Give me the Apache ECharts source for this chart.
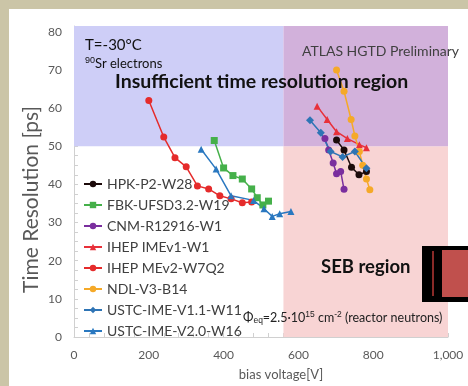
<!DOCTYPE html>
<html>
<head>
<meta charset="utf-8">
<script src="https://cdn.jsdelivr.net/npm/echarts@6/dist/echarts.min.js"></script>
<style>
  html, body { margin: 0; padding: 0; background: #cbc5a7; }
  #chart { position: absolute; left: 9px; top: 9px; width: 459px; height: 377px; background: #fff; }
</style>
</head>
<body>
<div id="chart"></div>
<script>
// bias voltage [V] / time resolution [ps]
const hpkV = [702, 722, 742, 762, 782];
const hpkT = [51.6, 49.0, 44.5, 42.5, 43.4];
const fbkV = [375, 400, 425, 450, 475, 490, 505, 520];
const fbkT = [51.5, 44.3, 42.3, 41.4, 38.8, 36.5, 34.6, 35.6];
const cnmV = [671, 681, 693, 702, 713, 722];
const cnmT = [52.0, 49.0, 45.6, 42.8, 43.4, 38.7];
const ime1V = [650, 677, 702, 731, 763, 782];
const ime1T = [60.5, 57.0, 53.8, 52.0, 50.4, 49.6];
const mev2V = [200, 240, 270, 300, 330, 360, 390, 420, 450, 475];
const mev2T = [62.0, 52.4, 47.0, 44.6, 39.6, 38.8, 37.0, 36.2, 35.2, 35.4];
const ndlV = [702, 722, 741, 751, 763, 772, 782, 791];
const ndlT = [70.0, 64.4, 57.0, 52.7, 48.6, 45.0, 41.4, 38.6];
const ustc11V = [631, 660, 686, 718, 751, 782];
const ustc11T = [56.8, 53.5, 48.6, 47.2, 48.6, 44.2];
const ustc20V = [340, 380, 420, 480, 508, 530, 550, 580];
const ustc20T = [49.2, 44.0, 37.0, 35.8, 33.6, 31.6, 32.3, 32.9];

const names = ["HPK-P2-W28", "FBK-UFSD3.2-W19", "CNM-R12916-W1", "IHEP IMEv1-W1",
  "IHEP MEv2-W7Q2", "NDL-V3-B14", "USTC-IME-V1.1-W11", "USTC-IME-V2.0-W16"];
const xs = [hpkV, fbkV, cnmV, ime1V, mev2V, ndlV, ustc11V, ustc20V];
const ys = [hpkT, fbkT, cnmT, ime1T, mev2T, ndlT, ustc11T, ustc20T];
const colors = ["#1c0a0a", "#45b04a", "#7a2e9e", "#e8303a", "#e52b2b", "#f5a928", "#2e74b5", "#2a78c0"];
const symbols = ["circle", "rect", "circle", "triangle", "circle", "circle", "diamond", "triangle"];

// shaded regions [x0, y0, x1, y1]
const yTop = 81.5;
const timeRegion = [0, 50, 560, yTop];
const sebRegion = [560, 0, 1000, 50];
const bothRegion = [560, 50, 1000, yTop];

const chart = echarts.init(document.getElementById("chart"));
const font = "Lato, 'Open Sans', sans-serif";

const area = (r, color) => [
  { xAxis: r[0], yAxis: r[1], itemStyle: { color } },
  { xAxis: r[2], yAxis: r[3] },
];

const series = names.map((n, i) => ({
  name: n, type: "line", z: 3,
  data: xs[i].map((v, k) => [v, ys[i][k]]),
  symbol: symbols[i], symbolSize: symbols[i] === "diamond" ? 8 : 7,
  itemStyle: { color: colors[i] },
  lineStyle: { color: colors[i], width: 1.5 },
}));

series.unshift({
  name: "regions", type: "line", data: [], z: 1, silent: true,
  markArea: {
    silent: true,
    data: [
      area(timeRegion, "#cecef7"),
      area(sebRegion, "#f8d4d4"),
      area(bothRegion, "#d2b1db"),
    ],
  },
});

chart.setOption({
  animation: false,
  textStyle: { fontFamily: font },
  grid: { left: 65, right: 20, top: 17, bottom: 49 },
  legend: {
    data: names, orient: "vertical", left: 69, top: 163,
    itemWidth: 18, itemHeight: 8, itemGap: 7,
    textStyle: { color: "#404040", fontSize: 14, fontFamily: font },
  },
  xAxis: {
    type: "value", min: 0, max: 1000, interval: 200,
    name: "bias voltage[V]", nameLocation: "middle", nameGap: 31,
    nameTextStyle: { color: "#595959", fontSize: 13, padding: [0, 0, 0, 40] },
    axisLine: { lineStyle: { color: "#d0d0d0" } },
    axisTick: { show: true, inside: true, length: 4, lineStyle: { color: "#d0d0d0" } },
    minorTick: { show: true, splitNumber: 5, length: 4, lineStyle: { color: "#d0d0d0" } },
    axisLabel: { color: "#595959", fontSize: 12, margin: 12 },
    splitLine: { show: false },
  },
  yAxis: {
    type: "value", min: 0, max: yTop, interval: 10,
    name: "Time Resolution [ps]", nameLocation: "middle", nameGap: 32, nameRotate: 90,
    nameMoveOverlap: false,
    nameTextStyle: { color: "#595959", fontSize: 21, padding: [0, 36, 0, 0] },
    axisLine: { show: true, lineStyle: { color: "#d0d0d0" } },
    axisTick: { show: true, inside: true, length: 4, lineStyle: { color: "#d0d0d0" } },
    minorTick: { show: true, splitNumber: 4, length: 4, lineStyle: { color: "#d0d0d0" } },
    axisLabel: { color: "#595959", fontSize: 12, margin: 12, showMaxLabel: false },
    splitLine: { show: false },
  },
  series,
  graphic: [
    { type: "text", left: 76, top: 29, z: 10,
      style: { text: "T=-30°C", font: "15px " + font, fill: "#111" } },
    { type: "text", left: 76, top: 47, z: 10,
      style: { text: "{s|90}Sr electrons", fill: "#111", font: "13px " + font,
        rich: { s: { fontSize: 9, verticalAlign: "top", padding: [0, 0, 6, 0], fill: "#111" } } } },
    { type: "text", left: 106, top: 63, z: 10,
      style: { text: "Insufficient time resolution region", font: "bold 19.5px " + font, fill: "#111" } },
    { type: "text", left: 293, top: 35, z: 10,
      style: { text: "ATLAS HGTD Preliminary", font: "14px " + font, fill: "#404040" } },
    { type: "text", left: 312, top: 249, z: 10,
      style: { text: "SEB region", font: "bold 18.5px " + font, fill: "#111" } },
    { type: "text", left: 234, top: 301, z: 10,
      style: {
        text: "Φ{b|eq}=2.5·10{p|15} cm{p|-2} (reactor neutrons)",
        font: "12.5px " + font, fill: "#222",
        rich: {
          b: { fontSize: 8.5, padding: [6, 0, 0, 0], fill: "#222" },
          p: { fontSize: 8.5, padding: [0, 0, 6, 0], fill: "#222" },
        },
      } },
    { type: "rect", z: 10, shape: { x: 413, y: 237, width: 46, height: 56 }, style: { fill: "#000" } },
    { type: "rect", z: 11, shape: { x: 423, y: 242, width: 2, height: 45 }, style: { fill: "#8a2a28" } },
    { type: "rect", z: 11, shape: { x: 433, y: 241, width: 26, height: 47 }, style: { fill: "#c0504d" } },
  ],
});
</script>
</body>
</html>
